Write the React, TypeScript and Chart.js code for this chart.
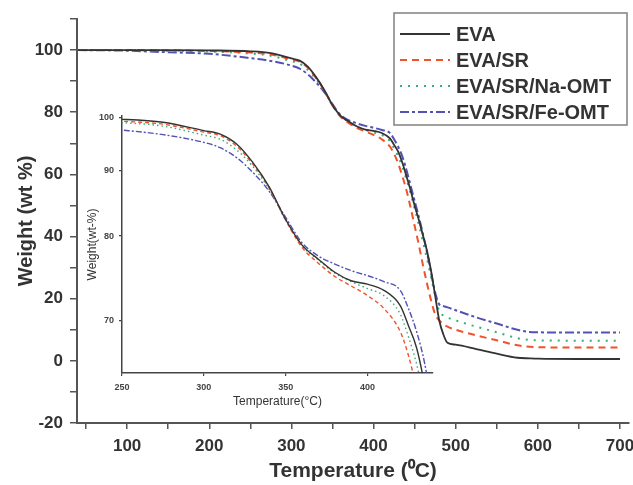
import React, { useEffect, useRef } from "react";
import { Chart, registerables, LinearScale } from "chart.js";

// ---- data ----
const temps = [40, 100, 150, 200, 250, 275, 300, 310, 320, 330, 340, 350, 360, 370, 380, 390, 400, 410, 420, 425, 430, 435, 440, 445, 450, 455, 460, 465, 470, 475, 480, 485, 490, 500, 525, 550, 575, 590, 600, 650, 700];
const eva = [100, 100, 100, 99.9, 99.6, 99.0, 97.3, 96.6, 94.7, 91.3, 87.2, 82.3, 78.8, 77.0, 75.4, 74.4, 74.0, 73.3, 71.6, 69.5, 67.3, 63.8, 59.5, 55, 50, 45.5, 40.5, 35.5, 29, 21, 13, 8.5, 5.8, 5.2, 3.8, 2.3, 1.0, 0.8, 0.7, 0.6, 0.6];
const evaSr = [100, 100, 99.9, 99.7, 99.2, 98.6, 97.0, 96.3, 94.3, 91.0, 87.0, 82.2, 78.5, 76.5, 74.9, 73.8, 72.7, 71.3, 68.9, 66.6, 63.5, 59.5, 55, 49.5, 43.5, 37.5, 31, 25, 19.5, 15, 13, 11.8, 11, 10, 8.2, 6.6, 5.0, 4.5, 4.4, 4.3, 4.3];
const evaSrNa = [100, 100, 99.8, 99.5, 98.9, 98.2, 96.4, 95.6, 93.6, 90.6, 86.8, 82.2, 78.7, 76.9, 75.3, 74.3, 73.5, 72.7, 70.7, 68.4, 65.8, 62.5, 58.5, 54, 49, 44, 38.5, 33, 27, 21, 16, 14.6, 13.9, 13, 11, 9.2, 7.3, 6.7, 6.6, 6.5, 6.5];
const evaSrFe = [100, 99.8, 99.3, 98.8, 97.4, 96.5, 95.0, 94.0, 92.2, 89.6, 86.5, 82.6, 79.1, 77.4, 76.4, 75.6, 75.0, 74.3, 73.3, 71.3, 68.9, 65.8, 61.5, 56.5, 51.5, 46.5, 41, 35, 28.5, 22, 18.2, 17.6, 17.2, 16.3, 14, 12, 10, 9.3, 9.2, 9.1, 9.1];
const seriesLabels = ["EVA", "EVA/SR", "EVA/SR/Na-OMT", "EVA/SR/Fe-OMT"];
const insetYTicks = [70, 80, 90, 100];

// ---- reciprocal scale used by the inset ----
class ReciprocalScale extends LinearScale {
  static id = "reciprocal";
  static defaults = {};
  getPixelForValue(value: number) {
    if (value === null || value === undefined) return NaN;
    const a = 1 / this.min;
    const b = 1 / this.max;
    return this.getPixelForDecimal((a - 1 / value) / (a - b));
  }
  getValueForPixel(pixel: number) {
    const d = this.getDecimalForPixel(pixel);
    const a = 1 / this.min;
    const b = 1 / this.max;
    return 1 / (a - d * (a - b));
  }
}

Chart.register(...registerables, ReciprocalScale as any);
Chart.defaults.font.family = '"Liberation Sans", Arial, sans-serif';

const FONT = '"Liberation Sans", Arial, sans-serif';
const NARROW = '"Liberation Sans Narrow", "Liberation Sans", Arial, sans-serif';

const styles = [
  { color: "#333333", dash: [] as number[], insetDash: [] as number[], width: 1.8 },
  { color: "#f0522c", dash: [7, 5], insetDash: [4, 3], width: 2 },
  { color: "#35ad78", dash: [2, 6], insetDash: [1.5, 3], width: 2 },
  { color: "#5252b4", dash: [9, 3, 3, 3], insetDash: [6, 2, 2, 2], width: 2 },
];
const seriesValues = [eva, evaSr, evaSrNa, evaSrFe];

function buildDatasets(inset: boolean) {
  return seriesValues.map((vals, i) => ({
    label: seriesLabels[i],
    data: temps.map((t, j) => ({ x: t, y: vals[j] })),
    borderColor: styles[i].color,
    borderWidth: inset ? 1.4 : styles[i].width,
    borderDash: inset ? styles[i].insetDash : styles[i].dash,
    pointRadius: 0,
    fill: false,
    cubicInterpolationMode: "monotone" as const,
  }));
}

const boxLegend = {
  id: "boxLegend",
  afterDraw(chart: any) {
    const ctx = chart.ctx;
    ctx.save();
    ctx.fillStyle = "#ffffff";
    ctx.fillRect(394, 13, 233, 112);
    ctx.strokeStyle = "#808080";
    ctx.lineWidth = 1.5;
    ctx.strokeRect(394, 13, 233, 112);
    chart.data.datasets.forEach((ds: any, i: number) => {
      const y = 34 + i * 26;
      ctx.setLineDash(ds.borderDash || []);
      ctx.strokeStyle = ds.borderColor;
      ctx.lineWidth = ds.borderWidth;
      ctx.beginPath();
      ctx.moveTo(400, y);
      ctx.lineTo(450, y);
      ctx.stroke();
      ctx.setLineDash([]);
      ctx.fillStyle = "#333333";
      ctx.font = `bold 20px ${FONT}`;
      ctx.textBaseline = "middle";
      ctx.textAlign = "left";
      ctx.fillText(ds.label, 456, y + 1);
    });
    ctx.restore();
  },
};

export default function App() {
  const mainRef = useRef<HTMLCanvasElement>(null);
  const insetRef = useRef<HTMLCanvasElement>(null);

  useEffect(() => {
    const axisColor = "#555555";
    const main = new Chart(mainRef.current as HTMLCanvasElement, {
      type: "line",
      data: { datasets: buildDatasets(false) as any },
      plugins: [boxLegend],
      options: {
        animation: false,
        responsive: false,
        layout: { padding: { left: 0, top: 19, right: 4, bottom: 0 } },
        plugins: { legend: { display: false }, tooltip: { enabled: false } },
        scales: {
          x: {
            type: "linear",
            min: 39,
            max: 711,
            afterFit: (s: any) => {
              s.height = 62;
              s.paddingLeft = 0;
              s.paddingRight = 0;
            },
            ticks: {
              stepSize: 50,
              includeBounds: false,
              autoSkip: false,
              maxRotation: 0,
              padding: 7,
              color: "#333",
              font: { size: 17, weight: "bold" },
              callback: (v: any) => (Number(v) % 100 === 0 ? String(v) : ""),
            },
            grid: { display: true, drawOnChartArea: false, drawTicks: true, tickLength: 6, color: axisColor, lineWidth: 1.5 },
            border: { display: true, color: axisColor, width: 2 },
            title: {
              display: true,
              text: "Temperature (\u2070C)",
              color: "#333",
              font: { size: 21, weight: "bold" },
              padding: { top: 0, bottom: 1 },
            },
          },
          y: {
            type: "linear",
            min: -20,
            max: 110,
            afterFit: (s: any) => {
              s.width = 77;
              s.paddingTop = 0;
              s.paddingBottom = 0;
            },
            ticks: {
              stepSize: 10,
              autoSkip: false,
              padding: 7,
              color: "#333",
              font: { size: 17, weight: "bold" },
              callback: (v: any) => (Number(v) % 20 === 0 && Number(v) <= 100 ? String(v) : ""),
            },
            grid: { display: true, drawOnChartArea: false, drawTicks: true, tickLength: 7, color: axisColor, lineWidth: 1.5 },
            border: { display: true, color: axisColor, width: 2 },
            title: {
              display: true,
              text: "Weight (wt %)",
              color: "#333",
              font: { size: 20, weight: "bold" },
              padding: { top: 14, bottom: 0 },
            },
          },
        },
      } as any,
    });

    const inset = new Chart(insetRef.current as HTMLCanvasElement, {
      type: "line",
      data: { datasets: buildDatasets(true) as any },
      options: {
        animation: false,
        responsive: false,
        layout: { padding: { left: 0, top: 16, right: 17, bottom: 0 } },
        plugins: { legend: { display: false }, tooltip: { enabled: false } },
        scales: {
          x: {
            type: "linear",
            min: 250,
            max: 440,
            afterFit: (s: any) => {
              s.height = 42;
              s.paddingLeft = 0;
              s.paddingRight = 0;
            },
            ticks: {
              stepSize: 50,
              includeBounds: false,
              autoSkip: false,
              maxRotation: 0,
              padding: 6,
              color: "#444",
              font: { family: NARROW, size: 9, weight: "bold" },
            },
            grid: { display: true, drawOnChartArea: false, drawTicks: true, tickLength: 3, color: "#444", lineWidth: 1.2 },
            border: { display: true, color: "#444", width: 1.5 },
            title: {
              display: true,
              text: "Temperature(\u00b0C)",
              color: "#333",
              font: { size: 12 },
              padding: { top: 0, bottom: 6 },
            },
          },
          y: {
            type: "reciprocal",
            min: 65,
            max: 100.3,
            afterBuildTicks: (s: any) => {
              s.ticks = insetYTicks.map((v) => ({ value: v }));
            },
            afterFit: (s: any) => {
              s.width = 52;
              s.paddingTop = 0;
              s.paddingBottom = 0;
            },
            ticks: {
              autoSkip: false,
              padding: 5,
              color: "#444",
              font: { family: NARROW, size: 9, weight: "bold" },
              callback: (v: any) => String(v),
            },
            grid: { display: true, drawOnChartArea: false, drawTicks: true, tickLength: 3, color: "#444", lineWidth: 1.2 },
            border: { display: true, color: "#444", width: 1.5 },
            title: {
              display: true,
              text: "Weight(wt-%)",
              color: "#333",
              font: { size: 12 },
              padding: { top: 15, bottom: 0 },
            },
          },
        },
      } as any,
    });

    return () => {
      main.destroy();
      inset.destroy();
    };
  }, []);

  return (
    <div style={{ position: "fixed", left: 0, top: 0, width: 633, height: 485, background: "#fff" }}>
      <canvas ref={mainRef} width={633} height={485} style={{ position: "absolute", left: 0, top: 0, width: 633, height: 485 }} />
      <canvas ref={insetRef} width={380} height={315} style={{ position: "absolute", left: 70, top: 100, width: 380, height: 315 }} />
    </div>
  );
}
